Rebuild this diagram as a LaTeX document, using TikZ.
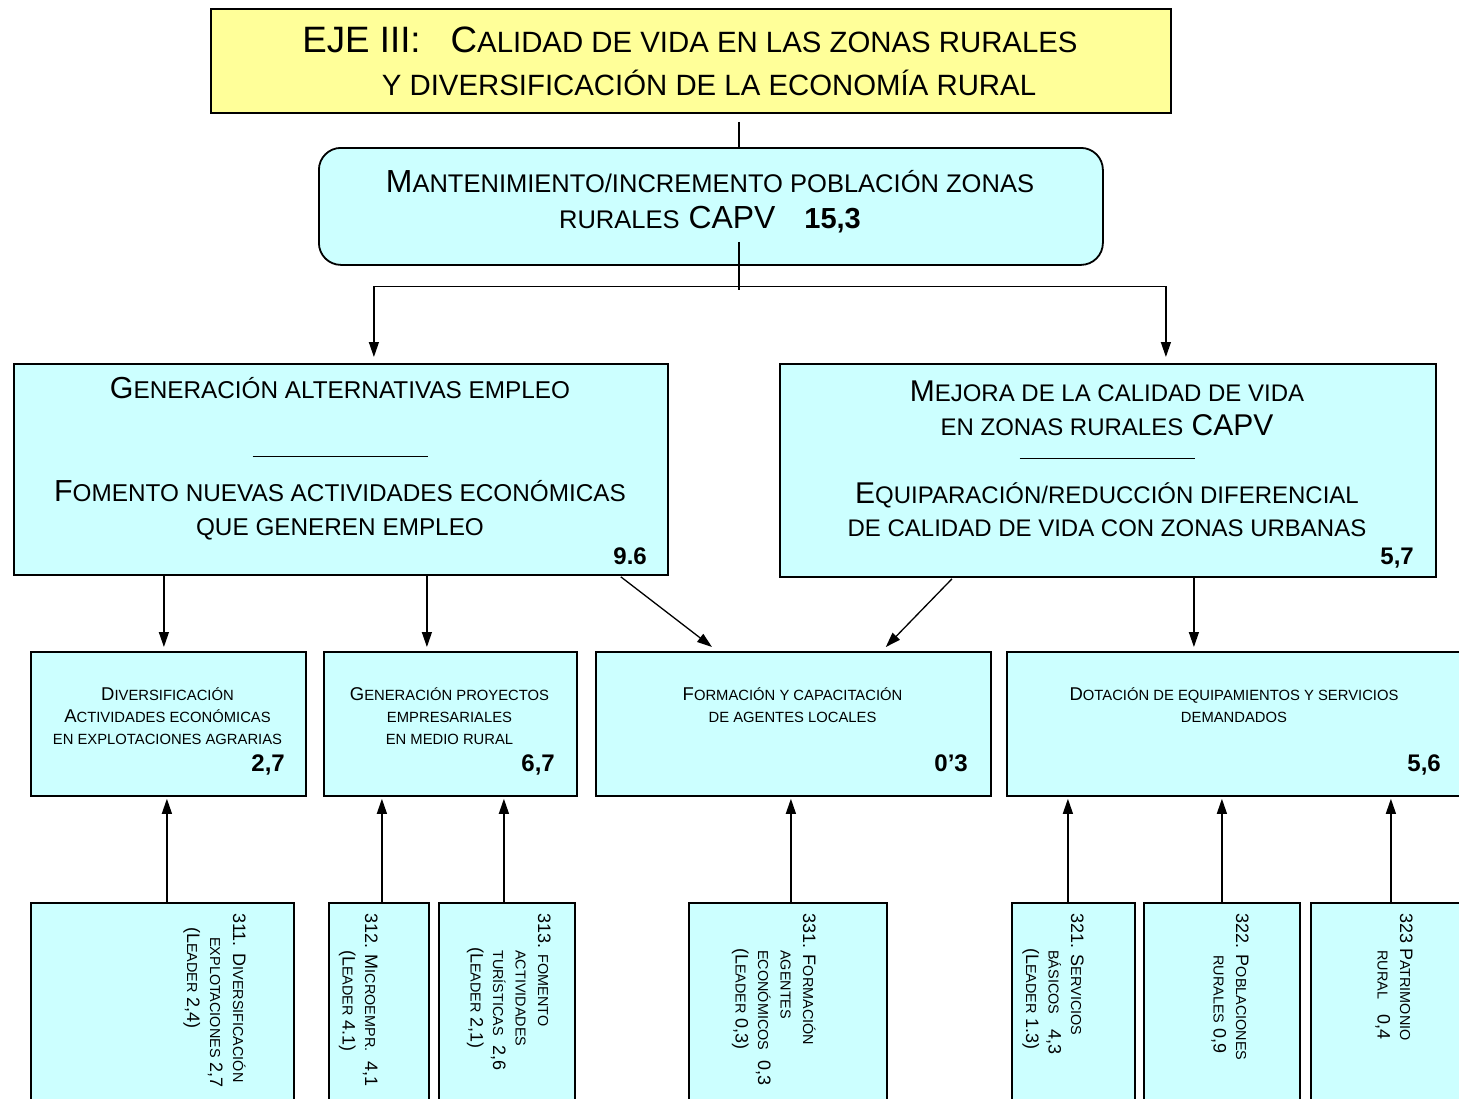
\documentclass[tikz,border=0pt]{standalone}
\usepackage{graphicx}
\usepackage{fontspec}
\setmainfont{Liberation Sans}
\usetikzlibrary{arrows.meta}
\definecolor{ejeyellow}{HTML}{FFFF99}
\definecolor{boxcyan}{HTML}{CCFFFF}
\newcommand{\lw}[1]{\scalebox{0.8}{#1}}

\begin{document}
\begin{tikzpicture}[x=1pt, y=-1pt,
        box/.style={draw, line width=1.8pt, fill=boxcyan, anchor=north west, inner sep=0pt},
        txt/.style={align=center, inner sep=0pt},
        rot/.style={rotate=-90, anchor=north west, align=left, inner sep=0pt, font=\fontsize{18}{22.5}\selectfont},
        num/.style={anchor=base east, inner sep=0pt, font=\fontsize{24}{24}\selectfont\bfseries},
        link/.style={line width=1.3pt},
        arr/.style={line width=1.3pt, -{Triangle[length=15pt, width=10pt]}}]
        \clip (0,0) rectangle (1459,1098);
        \node[box, fill=ejeyellow, minimum width=960pt, minimum height=104pt](eje) at (210, 8) {};
        \node[box, rounded corners=22pt, minimum width=784pt, minimum height=117pt](capv) at (318, 147) {};
        \node[box, minimum width=654pt, minimum height=211pt](gen) at (13, 363) {};
        \node[box, minimum width=656pt, minimum height=213pt](mej) at (779, 363) {};
        \node[box, minimum width=275pt, minimum height=144pt](div) at (30, 651) {};
        \node[box, minimum width=253pt, minimum height=144pt](emp) at (323, 651) {};
        \node[box, minimum width=395pt, minimum height=144pt](form) at (595, 651) {};
        \node[box, minimum width=456pt, minimum height=144pt](dot) at (1006, 651) {};
        \node[box, minimum width=263pt, minimum height=218pt](m311) at (30, 902) {};
        \node[box, minimum width=100pt, minimum height=218pt](m312) at (328, 902) {};
        \node[box, minimum width=136pt, minimum height=218pt](m313) at (438, 902) {};
        \node[box, minimum width=198pt, minimum height=218pt](m331) at (688, 902) {};
        \node[box, minimum width=123pt, minimum height=218pt](m321) at (1011, 902) {};
        \node[box, minimum width=156pt, minimum height=218pt](m322) at (1143, 902) {};
        \node[box, minimum width=160pt, minimum height=218pt](m323) at (1310, 902) {};

        \node[txt, font=\fontsize{36.7}{43}\selectfont](eje-t) at (690, 61) {EJE III:\hspace{30pt}C\lw{ALIDAD DE VIDA EN LAS ZONAS RURALES}\\ \hspace*{38pt}\lw{Y DIVERSIFICACIÓN DE LA ECONOMÍA RURAL}};
        \node[txt, font=\fontsize{31.9}{36}\selectfont](capv-t) at (710, 202) {M\lw{ANTENIMIENTO/INCREMENTO POBLACIÓN ZONAS}\\ \lw{RURALES} CAPV\hspace{29pt}{\fontsize{29}{36}\selectfont\bfseries 15,3}};
        \node[txt, font=\fontsize{30.4}{34.2}\selectfont](gen-t) at (340, 459) {G\lw{ENERACIÓN ALTERNATIVAS EMPLEO}\\ \mbox{}\\ \rule[10pt]{175pt}{1.5pt}\\ F\lw{OMENTO NUEVAS ACTIVIDADES ECONÓMICAS}\\ \lw{QUE GENEREN EMPLEO}};
        \node[txt, font=\fontsize{30}{33.8}\selectfont](mej-t) at (1107, 459) {M\lw{EJORA DE LA CALIDAD DE VIDA}\\ \lw{EN ZONAS RURALES} CAPV\\ \rule[10pt]{175pt}{1.5pt}\\ E\lw{QUIPARACIÓN/REDUCCIÓN DIFERENCIAL}\\ \lw{DE CALIDAD DE VIDA CON ZONAS URBANAS}};
        \node[num](gen-n) at (647, 564.5) {9.6};
        \node[num](mej-n) at (1414, 564.5) {5,7};

        \node[txt, font=\fontsize{18.5}{21.8}\selectfont](div-t) at (167.5, 716) {D\lw{IVERSIFICACIÓN}\\ A\lw{CTIVIDADES ECONÓMICAS}\\ \lw{EN EXPLOTACIONES AGRARIAS}};
        \node[txt, font=\fontsize{18.5}{21.8}\selectfont](emp-t) at (449.5, 716) {G\lw{ENERACIÓN PROYECTOS}\\ \lw{EMPRESARIALES}\\ \lw{EN MEDIO RURAL}};
        \node[txt, font=\fontsize{18.5}{21.8}\selectfont](form-t) at (792.5, 705) {F\lw{ORMACIÓN Y CAPACITACIÓN}\\ \lw{DE AGENTES LOCALES}};
        \node[txt, font=\fontsize{18.5}{21.8}\selectfont](dot-t) at (1234, 705) {D\lw{OTACIÓN DE EQUIPAMIENTOS Y SERVICIOS}\\ \lw{DEMANDADOS}};
        \node[num](div-n) at (285, 771.5) {2,7};
        \node[num](emp-n) at (555, 771.5) {6,7};
        \node[num](form-n) at (968, 771.5) {0’3};
        \node[num](dot-n) at (1441, 771.5) {5,6};

        \node[rot, font=\fontsize{18}{23}\selectfont](t311) at (246, 913) {311. D\lw{IVERSIFICACIÓN}\\ \hspace*{24pt}\lw{EXPLOTACIONES} 2,7\\ \hspace*{14pt}(L\lw{EADER} 2,4)};
        \node[rot](t312) at (378, 913) {312. M\lw{ICROEMPR.}\ \ 4,1\\ \hspace*{37pt}(L\lw{EADER} 4.1)};
        \node[rot](t313) at (551, 913) {313. \lw{FOMENTO}\\ \hspace*{37pt}\lw{ACTIVIDADES}\\ \hspace*{37pt}\lw{TURÍSTICAS}\ \ 2,6\\ \hspace*{34pt}(L\lw{EADER} 2,1)};
        \node[rot](t331) at (816, 913) {331. F\lw{ORMACIÓN}\\ \hspace*{37pt}\lw{AGENTES}\\ \hspace*{37pt}\lw{ECONÓMICOS}\ \ 0,3\\ \hspace*{35pt}(L\lw{EADER} 0,3)};
        \node[rot](t321) at (1084, 913) {321. S\lw{ERVICIOS}\\ \hspace*{37pt}\lw{BÁSICOS}\ \ \ 4,3\\ \hspace*{35pt}(L\lw{EADER} 1.3)};
        \node[rot](t322) at (1249, 913) {322. P\lw{OBLACIONES}\\ \hspace*{42pt}\lw{RURALES} 0,9};
        \node[rot](t323) at (1413, 913) {323 P\lw{ATRIMONIO}\\ \hspace*{37pt}\lw{RURAL}\ \ \ 0,4};

        \draw[link] ([xshift=48pt, yshift=-8pt]eje.south) -- ([xshift=28pt]capv.north);
        \draw[link] ([xshift=28pt, yshift=24pt]capv.south) -- ([xshift=28pt, yshift=-24pt]capv.south);
        \draw[arr] ([xshift=28pt, yshift=-21pt]capv.south) -| ([xshift=33pt, yshift=6pt]gen.north);
        \draw[arr] ([xshift=28pt, yshift=-21pt]capv.south) -| ([xshift=58pt, yshift=6pt]mej.north);
        \draw[arr] ([xshift=-177pt]gen.south) -- ([xshift=-4.5pt, yshift=4pt]div.north);
        \draw[arr] ([xshift=86pt]gen.south) -- ([xshift=-23.5pt, yshift=4pt]emp.north);
        \draw[arr] ([xshift=-48pt, yshift=-1pt]gen.south east) -- ([xshift=117pt, yshift=4pt]form.north west);
        \draw[arr] ([xshift=173pt, yshift=-1pt]mej.south west) -- ([xshift=-106pt, yshift=4pt]form.north east);
        \draw[arr] ([xshift=86pt]mej.south) -- ([xshift=-41pt, yshift=4pt]dot.north);
        \draw[arr] ([xshift=4.5pt]m311.north) -- ([xshift=-1.5pt, yshift=-2pt]div.south);
        \draw[arr] ([xshift=3pt]m312.north) -- ([xshift=-68.5pt, yshift=-2pt]emp.south);
        \draw[arr] ([xshift=-3pt]m313.north) -- ([xshift=53.5pt, yshift=-2pt]emp.south);
        \draw[arr] ([xshift=3pt]m331.north) -- ([xshift=-2.5pt, yshift=-2pt]form.south);
        \draw[arr] ([xshift=-5.5pt]m321.north) -- ([xshift=-167pt, yshift=-2pt]dot.south);
        \draw[arr] (m322.north) -- ([xshift=-13pt, yshift=-2pt]dot.south);
        \draw[arr] (m323.north) -- ([xshift=156pt, yshift=-2pt]dot.south);
\end{tikzpicture}
\end{document}
